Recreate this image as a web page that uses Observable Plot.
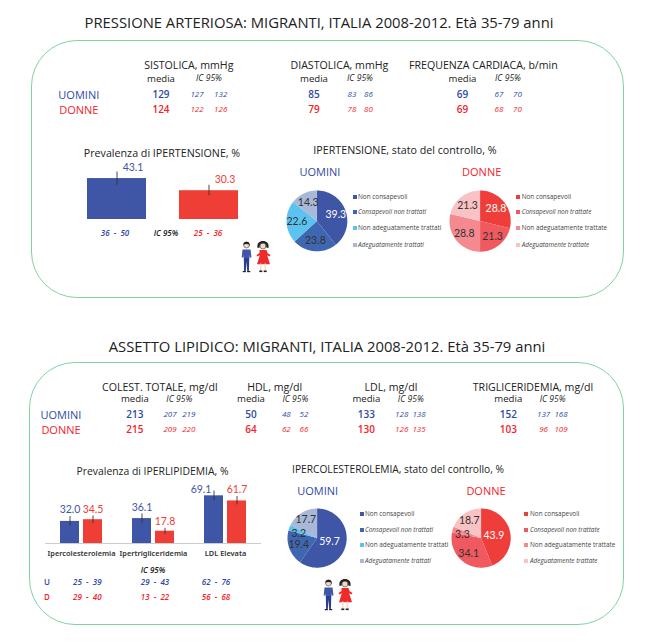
<!DOCTYPE html>
<html lang="it">
<head>
<meta charset="utf-8">
<script src="https://cdn.jsdelivr.net/npm/d3@7"></script>
<script src="https://cdn.jsdelivr.net/npm/@observablehq/plot@0.6"></script>
<style>
html,body{margin:0;padding:0;background:#fff}
#page{position:relative;width:648px;height:642px;overflow:hidden;font-family:"Open Sans",Lato,sans-serif;color:#222}
.t{position:absolute;white-space:pre;transform:translate(-50%,-50%);line-height:1}
.frame{position:absolute;box-sizing:border-box;border:1.2px solid #7fd3a3;border-radius:46px}
.abs{position:absolute}
.abs svg{display:block;overflow:visible;background:transparent}
.sw{position:absolute;width:4px;height:4px;transform:translateY(-50%)}
</style>
</head>
<body>
<div id="page"></div>
<script>
// ---------- data ----------
const sexes = ["U", "D"];
const sexLabels = ["UOMINI", "DONNE"];
const titlePressure = "PRESSIONE ARTERIOSA: MIGRANTI, ITALIA 2008-2012. Età 35-79 anni";
const titleLipids = "ASSETTO LIPIDICO: MIGRANTI, ITALIA 2008-2012. Età 35-79 anni";

const pressureHeaders = ["SISTOLICA, mmHg", "DIASTOLICA, mmHg", "FREQUENZA CARDIACA, b/min"];
const pressureMeanU = [129, 85, 69];
const pressureLoU = [127, 83, 67];
const pressureHiU = [132, 86, 70];
const pressureMeanD = [124, 79, 69];
const pressureLoD = [122, 78, 68];
const pressureHiD = [126, 80, 70];

const lipidHeaders = ["COLEST. TOTALE, mg/dl", "HDL, mg/dl", "LDL, mg/dl", "TRIGLICERIDEMIA, mg/dl"];
const lipidMeanU = [213, 50, 133, 152];
const lipidLoU = [207, 48, 128, 137];
const lipidHiU = [219, 52, 138, 168];
const lipidMeanD = [215, 64, 130, 103];
const lipidLoD = [209, 62, 126, 96];
const lipidHiD = [220, 66, 135, 109];

const hypertensionValues = [43.1, 30.3];
const hypertensionLo = [36, 25];
const hypertensionHi = [50, 36];

const lipidCategories = ["Ipercolesterolemia", "Ipertrigliceridemia", "LDL Elevata"];
const lipidPrevU = [32.0, 36.1, 69.1];
const lipidPrevD = [34.5, 17.8, 61.7];
const lipidPrevLoU = [25, 29, 62];
const lipidPrevHiU = [39, 43, 76];
const lipidPrevLoD = [29, 13, 56];
const lipidPrevHiD = [40, 22, 68];

const legendM = ["Non consapevoli", "Consapevoli non trattati", "Non adeguatamente trattati", "Adeguatamente trattati"];
const legendF = ["Non consapevoli", "Consapevoli non trattate", "Non adeguatamente trattate", "Adeguatamente trattate"];
const pieHtnU = [39.3, 23.8, 22.6, 14.3];
const pieHtnD = [28.8, 21.3, 28.8, 21.3];
const pieLipU = [59.7, 19.4, 3.2, 17.7];
const pieLipD = [43.9, 34.1, 3.3, 18.7];

const BLUE = "#3f55a5", RED = "#ef3e36", TEXTBLUE = "#2f4aa5", TEXTRED = "#f5222a";
const blues = ["#3f55a5", "#3f66b0", "#5cc3f0", "#a8b8d8"];
const reds = ["#ef3e3a", "#f0595f", "#f48a90", "#f9c3c6"];

// ---------- helpers ----------
const page = document.getElementById("page");
function t(text, x, y, o = {}) {
  const e = document.createElement("div");
  e.className = "t";
  e.textContent = text;
  e.style.left = x + "px";
  e.style.top = y + "px";
  e.style.fontSize = (o.size || 9) + "px";
  e.style.color = o.color || "#222";
  if (o.italic) e.style.fontStyle = "italic";
  if (o.weight) e.style.fontWeight = o.weight;
  if (o.left) e.style.transform = "translate(0,-50%)";
  page.appendChild(e);
}
function frame(l, t_, r, b) {
  const e = document.createElement("div");
  e.className = "frame";
  Object.assign(e.style, {left: l + "px", top: t_ + "px", width: (r - l) + "px", height: (b - t_) + "px"});
  page.appendChild(e);
}
function place(node, l, top) {
  const e = document.createElement("div");
  e.className = "abs";
  e.style.left = l + "px";
  e.style.top = top + "px";
  e.appendChild(node);
  page.appendChild(e);
}
function pie(values, colors, cx, cy, r) {
  const arcs = d3.pie().sort(null)(values);
  const total = d3.sum(values);
  const outline = [], labels = [];
  arcs.forEach((a, i) => {
    outline.push({slice: i, x: 0, y: 0, color: colors[i]});
    const n = Math.max(2, Math.ceil((a.endAngle - a.startAngle) * 30));
    for (let k = 0; k <= n; k++) {
      const ang = a.startAngle + (a.endAngle - a.startAngle) * k / n;
      outline.push({slice: i, x: Math.sin(ang), y: Math.cos(ang), color: colors[i]});
    }
    const mid = (a.startAngle + a.endAngle) / 2;
    const share = a.value / total;
    const afterTiny = i > 0 && values[i - 1] / total < 0.05;
    const rho = share > 0.4 ? 0.44 : afterTiny ? 0.72 : 0.66;
    const lift = share < 0.05 ? -0.09 : 0;
    labels.push({x: rho * Math.sin(mid), y: rho * Math.cos(mid) + lift, v: a.value.toFixed(1), c: i === 0 ? "#ffffff" : "#333333"});
  });
  const p = Plot.plot({
    width: 2 * r, height: 2 * r, margin: 0,
    x: {domain: [-1, 1], axis: null},
    y: {domain: [-1, 1], axis: null},
    color: {type: "identity"},
    marks: [
      Plot.line(outline, {x: "x", y: "y", z: "slice", fill: "color", stroke: "none"}),
      Plot.text(labels, {x: "x", y: "y", text: "v", fill: "c", fontSize: 10.5, fontFamily: "Lato"})
    ]
  });
  place(p, cx - r, cy - r);
}
function legend(items, colors, swX, txtX, ys) {
  items.forEach((s, i) => {
    const e = document.createElement("div");
    e.className = "sw";
    Object.assign(e.style, {left: swX + "px", top: ys[i] + "px", background: colors[i]});
    page.appendChild(e);
    t(s, txtX, ys[i], {size: 6.4, color: "#444", left: true, italic: i === 1 || i === 3});
  });
}
function couple(l, top, h) {
  const e = document.createElement("div");
  e.className = "abs";
  e.style.left = l + "px";
  e.style.top = top + "px";
  e.innerHTML = `<svg width="${h}" height="${h}" viewBox="0 0 32 32">
    <g stroke-linecap="round">
    <circle cx="6.500" cy="4" r="3" fill="#f5d6c0" stroke="#222" stroke-width=".5"/>
    <path d="M3.400 3.800a3.100 3.100 0 0 1 6.200 0c-1.500-1-4.500-1-6.200 0z" fill="#222"/>
    <path d="M2.500 8.500h8l1 8h-1.600l-.4-3v3.500h-5.800v-3.500l-.4 3h-1.600z" fill="#3f55a5"/>
    <path d="M3.800 17h5.500l-.4 13h-1.700l-.7-9.500l-.7 9.500h-1.700z" fill="#2b3f8f"/>
    <rect x="2.700" y="30" width="3.200" height="1.200" fill="#222"/><rect x="7.100" y="30" width="3.200" height="1.200" fill="#222"/>
    <circle cx="23" cy="5" r="3" fill="#f5d6c0" stroke="#222" stroke-width=".5"/>
    <path d="M17.500 7c-.8-5 2-7 5.500-7s6.300 2 5.500 7l-2.300-.5c.5-3-.8-4.300-3.200-4.300s-3.700 1.300-3.200 4.300z" fill="#222"/>
    <path d="M19.500 9h7l1 3l3 2l-1 1.500l-2.300-1.300l2.800 9h-13l2.800-9l-2.300 1.300l-1-1.500l3-2z" fill="#ee2b2b"/>
    <path d="M20.800 23v6.500M25.200 23v6.500" stroke="#f5d6c0" stroke-width="1.300"/>
    <rect x="19.300" y="29.500" width="3" height="1.600" fill="#222"/><rect x="23.700" y="29.500" width="3" height="1.600" fill="#222"/>
    </g></svg>`;
  page.appendChild(e);
}

const F = 14.8, H = 10.6, M = 9.6, IC = 8.6, ICV = 8, V = 10;
// ---------- pressure panel ----------
t(titlePressure, 319, 22, {size: F});
frame(31, 40, 624, 298);
const pressCols = [
  {h: 188.8, m: 161, ic: 209, lo: 197, hi: 220.7},
  {h: 339.4, m: 314, ic: 360, lo: 352, hi: 368.5},
  {h: 483.4, m: 462.5, ic: 508, lo: 499, hi: 517.4}
];
pressureHeaders.forEach((h, i) => {
  const c = pressCols[i];
  t(h, c.h, 65, {size: H});
  t("media", c.m, 78.5, {size: M});
  t("IC 95%", c.ic, 78, {size: IC, italic: true});
  t(pressureMeanU[i], c.m, 94, {size: V, color: TEXTBLUE, weight: 600});
  t(pressureLoU[i], c.lo, 94, {size: ICV, italic: true, color: TEXTBLUE});
  t(pressureHiU[i], c.hi, 94, {size: ICV, italic: true, color: TEXTBLUE});
  t(pressureMeanD[i], c.m, 109, {size: V, color: TEXTRED, weight: 600});
  t(pressureLoD[i], c.lo, 109, {size: ICV, italic: true, color: TEXTRED});
  t(pressureHiD[i], c.hi, 109, {size: ICV, italic: true, color: TEXTRED});
});
t(sexLabels[0], 78.8, 94, {size: 11, color: TEXTBLUE});
t(sexLabels[1], 78.8, 109, {size: 11, color: TEXTRED});

t("Prevalenza di IPERTENSIONE, %", 162, 153.3, {size: 10.7});
const htnRows = sexes.map((s, i) => ({s, v: hypertensionValues[i], lo: hypertensionLo[i], hi: hypertensionHi[i]}));
place(Plot.plot({
  width: 218, height: 57, margin: 0,
  x: {domain: sexes, padding: 0.36, axis: null},
  y: {domain: [0, 60], axis: null},
  color: {domain: sexes, range: [BLUE, RED]},
  marks: [
    Plot.barY(htnRows, {x: "s", y: "v", fill: "s"}),
    Plot.ruleX(htnRows, {x: "s", y1: "lo", y2: "hi", stroke: "#333", strokeWidth: 0.9}),
    Plot.text(htnRows, {x: "s", y: "v", text: d => d.v.toFixed(1), fill: "s", dx: 16, dy: -11, fontSize: 10.5, fontFamily: "Lato"})
  ]
}), 52.5, 162.3);
t(`${hypertensionLo[0]}  -  ${hypertensionHi[0]}`, 115, 232.7, {size: 8, italic: true, color: TEXTBLUE, weight: 600});
t("IC 95%", 166, 232.7, {size: 8, italic: true, weight: 600});
t(`${hypertensionLo[1]}  -  ${hypertensionHi[1]}`, 208, 232.7, {size: 8, italic: true, color: TEXTRED, weight: 600});

t("IPERTENSIONE, stato del controllo, %", 405, 150, {size: 10.7});
t(sexLabels[0], 320, 171, {size: 11, color: TEXTBLUE});
t(sexLabels[1], 481.7, 171, {size: 11, color: TEXTRED});
pie(pieHtnU, blues, 316, 220.3, 30.4);
pie(pieHtnD, reds, 479.3, 220.3, 30.6);
legend(legendM, blues, 352.5, 358, [196.7, 212.3, 228.3, 244.7]);
legend(legendF, reds, 516, 521.7, [196.7, 212.3, 228.3, 244.7]);
couple(239.5, 241, 32);

// ---------- lipid panel ----------
t(titleLipids, 327, 345.7, {size: F});
frame(29, 362, 624, 625);
const lipCols = [
  {h: 159.8, m: 134.9, ic: 179.3, lo: 170, hi: 188.8},
  {h: 274.7, m: 251, ic: 295.4, lo: 286.3, hi: 304},
  {h: 390.9, m: 366.4, ic: 410.8, lo: 401.7, hi: 419},
  {h: 533, m: 508.3, ic: 552.7, lo: 543.6, hi: 561}
];
lipidHeaders.forEach((h, i) => {
  const c = lipCols[i];
  t(h, c.h, 386.7, {size: H});
  t("media", c.m, 399.3, {size: M});
  t("IC 95%", c.ic, 399, {size: IC, italic: true});
  t(lipidMeanU[i], c.m, 414, {size: V, color: TEXTBLUE, weight: 600});
  t(lipidLoU[i], c.lo, 414, {size: ICV, italic: true, color: TEXTBLUE});
  t(lipidHiU[i], c.hi, 414, {size: ICV, italic: true, color: TEXTBLUE});
  t(lipidMeanD[i], c.m, 429.3, {size: V, color: TEXTRED, weight: 600});
  t(lipidLoD[i], c.lo, 429.3, {size: ICV, italic: true, color: TEXTRED});
  t(lipidHiD[i], c.hi, 429.3, {size: ICV, italic: true, color: TEXTRED});
});
t(sexLabels[0], 61, 414, {size: 11, color: TEXTBLUE});
t(sexLabels[1], 61, 429.3, {size: 11, color: TEXTRED});

t("Prevalenza di IPERLIPIDEMIA, %", 152.5, 471, {size: 10.4});
const lipRows = lipidCategories.flatMap((c, i) => [
  {c, s: "U", v: lipidPrevU[i], lo: lipidPrevLoU[i], hi: lipidPrevHiU[i]},
  {c, s: "D", v: lipidPrevD[i], lo: lipidPrevLoD[i], hi: lipidPrevHiD[i]}
]);
place(Plot.plot({
  width: 216, height: 89, marginLeft: 0, marginRight: 0, marginTop: 0, marginBottom: 20,
  fx: {domain: lipidCategories, padding: 0, label: null},
  x: {domain: sexes, paddingInner: 0.19, paddingOuter: 0.6, axis: null},
  y: {domain: [0, 100], axis: null},
  color: {domain: sexes, range: [BLUE, RED]},
  marks: [
    Plot.axisFx({anchor: "bottom", tickSize: 0, tickPadding: 7, label: null, fontSize: 7.4, fontWeight: 600, fill: "#333"}),
    Plot.barY(lipRows, {fx: "c", x: "s", y: "v", fill: "s"}),
    Plot.ruleY([0], {stroke: "#ccc", strokeWidth: 1}),
    Plot.ruleX(lipRows, {fx: "c", x: "s", y1: "lo", y2: "hi", stroke: "#333", strokeWidth: 0.9}),
    Plot.text(lipRows, {filter: d => d.v !== 69.1, fx: "c", x: "s", y: "hi", text: d => d.v.toFixed(1), fill: "s", dy: -6.5, fontSize: 10.5, fontFamily: "Lato"}),
    Plot.text(lipRows, {filter: d => d.v === 69.1, fx: "c", x: "s", y: "v", text: d => d.v.toFixed(1), fill: "s", dx: -13, dy: -6.5, fontSize: 10.5, fontFamily: "Lato"})
  ]
}), 45, 473.7);

t("IC 95%", 153, 570.3, {size: 8, italic: true, weight: 600});
t("U", 47, 582.3, {size: 8, color: TEXTBLUE, weight: 600});
t("D", 47, 596.7, {size: 8, color: TEXTRED, weight: 600});
[87.3, 155, 216].forEach((x, i) => {
  t(`${lipidPrevLoU[i]}  -  ${lipidPrevHiU[i]}`, x, 582.3, {size: 8, italic: true, color: TEXTBLUE, weight: 600});
  t(`${lipidPrevLoD[i]}  -  ${lipidPrevHiD[i]}`, x, 596.7, {size: 8, italic: true, color: TEXTRED, weight: 600});
});

t("IPERCOLESTEROLEMIA, stato del controllo, %", 398, 469, {size: 10.2});
t(sexLabels[0], 317.7, 490, {size: 11, color: TEXTBLUE});
t(sexLabels[1], 486, 490, {size: 11, color: TEXTRED});
pie(pieLipU, blues, 316.8, 537.7, 29.6);
pie(pieLipD, reds, 480.3, 537.7, 29.6);
legend(legendM, blues, 359.7, 365, [514, 529.7, 545, 560.7]);
legend(legendF, reds, 524.3, 530, [514, 529.7, 545, 560.7]);
couple(322, 579, 32);
</script>
</body>
</html>
